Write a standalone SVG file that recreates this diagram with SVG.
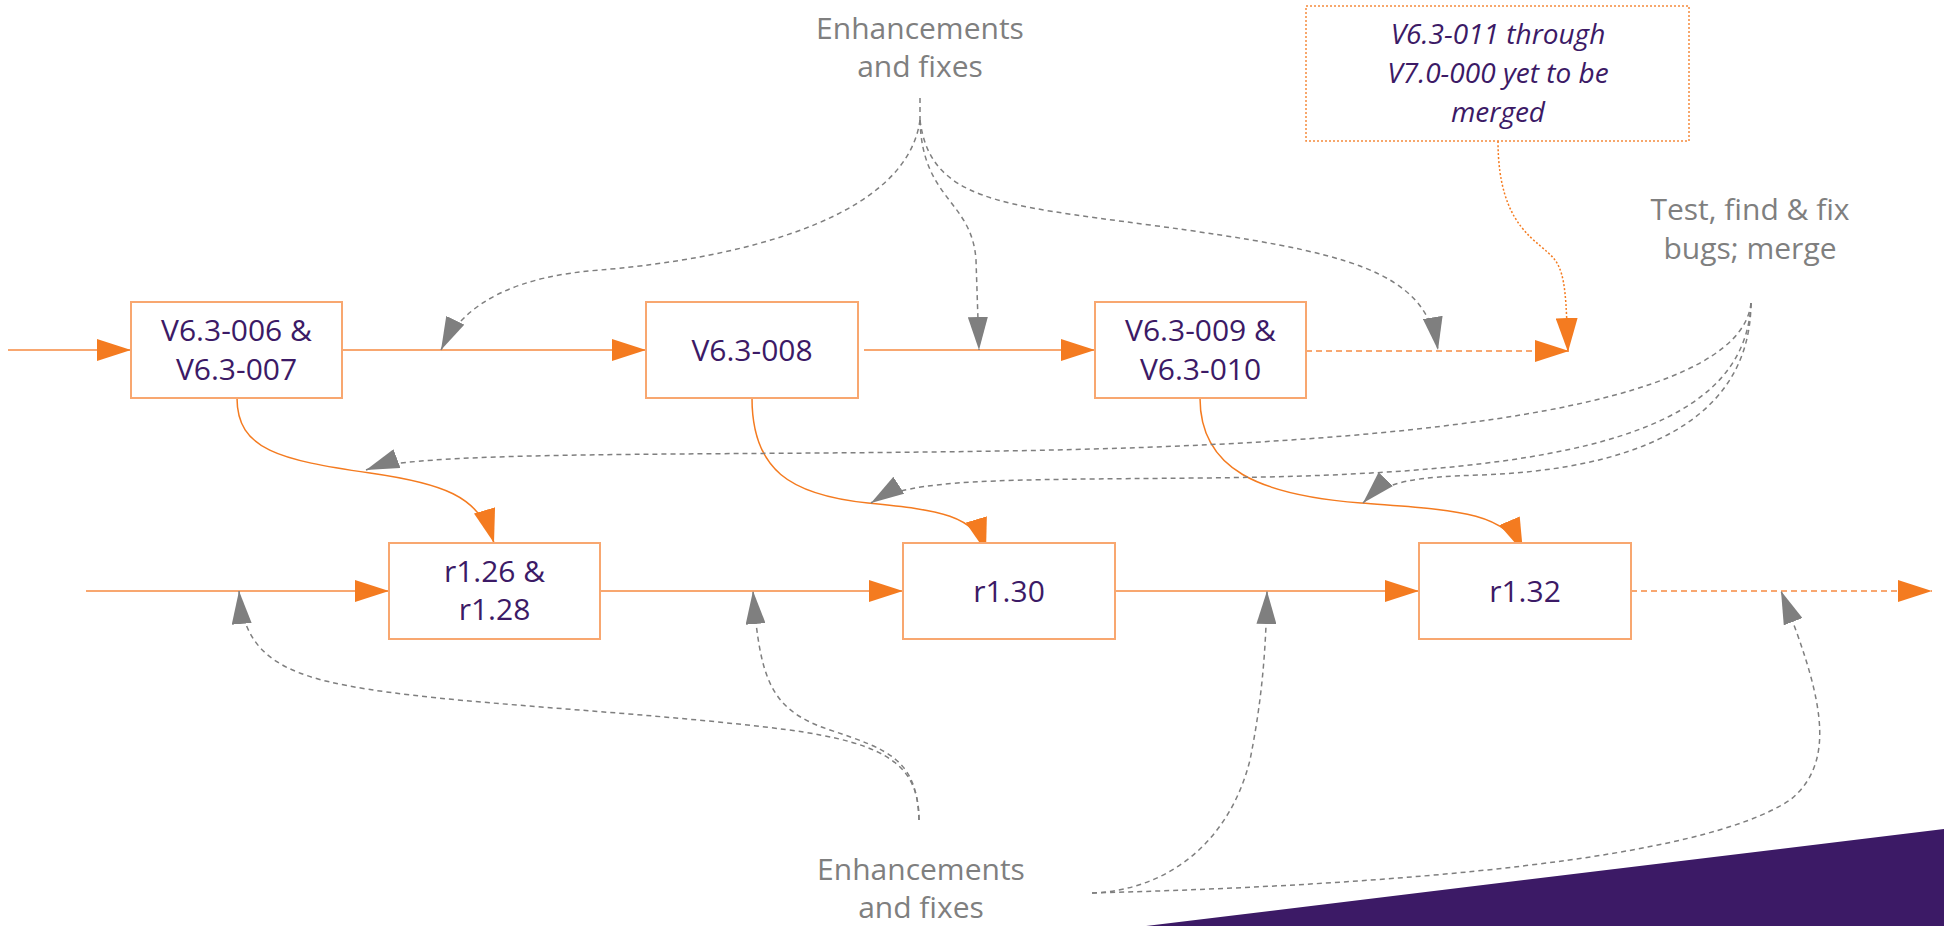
<svg xmlns="http://www.w3.org/2000/svg" width="1944" height="926" viewBox="0 0 1944 926">
<style>
.box{fill:#ffffff;stroke:#f8a770;stroke-width:2}
.note{fill:#ffffff;stroke:#f58a3c;stroke-width:1.5;stroke-dasharray:2,2}
.t{font-family:"Open Sans","Liberation Sans",sans-serif;font-size:30px;fill:#3c1a66;text-anchor:middle}
.ti{font-family:"Open Sans","Liberation Sans",sans-serif;font-size:28px;font-style:italic;fill:#3c1a66;text-anchor:middle}
.g{font-family:"Open Sans","Liberation Sans",sans-serif;font-size:30px;fill:#7f7f7f;text-anchor:middle}
.main{fill:none;stroke:#f8a770;stroke-width:2;marker-end:url(#oa)}
.maind{fill:none;stroke:#f8a770;stroke-width:2;stroke-dasharray:6,4;marker-end:url(#oa)}
.cur{fill:none;stroke:#f47b20;stroke-width:1.5;marker-end:url(#oa)}
.dot{fill:none;stroke:#f47b20;stroke-width:1.5;stroke-dasharray:2,2;marker-end:url(#oa)}
.gl{fill:none;stroke:#7f7f7f;stroke-width:1.5;stroke-dasharray:5,4;marker-end:url(#ga)}
.gn{fill:none;stroke:#7f7f7f;stroke-width:1.5;stroke-dasharray:5,4}
</style>
<defs>
<marker id="oa" markerUnits="userSpaceOnUse" viewBox="0 0 34 22" refX="34" refY="11" markerWidth="34" markerHeight="22" orient="auto"><path d="M0,0 L34,11 L0,22 z" fill="#f47b20"/></marker>
<marker id="ga" markerUnits="userSpaceOnUse" viewBox="0 0 33 20" refX="33" refY="10" markerWidth="33" markerHeight="20" orient="auto"><path d="M0,0 L33,10 L0,20 z" fill="#7f7f7f"/></marker>
</defs>
<polygon points="1146,926 1944,829 1944,926" fill="#3c1a66"/>
<g id="connectors">
<path class="main" d="M8,350 L131,350"/>
<path class="main" d="M342,350 L646,350"/>
<path class="main" d="M864,350 L1095,350"/>
<path class="maind" d="M1306,351 L1569,351"/>
<path class="main" d="M86,591 L389,591"/>
<path class="main" d="M600,591 L903,591"/>
<path class="main" d="M1115,591 L1419,591"/>
<path class="maind" d="M1631,591 L1932,591"/>
<path class="cur" d="M237,398 C237,450 280,460 370,473 C440,483 480,495 494,543"/>
<path class="cur" d="M752,398 C752,470 790,495 868,503 C940,510 975,515 986,552"/>
<path class="cur" d="M1200,398 C1200,470 1260,495 1361,503 C1450,510 1505,510 1523,552"/>
<path class="dot" d="M1498,141 C1498,230 1540,240 1555,260 C1566,275 1566,300 1568,352"/>
<path class="gl" d="M920,120 C905,230 700,262 600,270 C520,276 465,300 441,350"/>
<path class="gl" d="M920,120 C922,200 972,200 976,260 L979,350"/>
<path class="gl" d="M920,120 C930,200 1000,205 1150,225 C1350,252 1425,270 1438,350"/>
<path class="gn" d="M920,98 L920,120"/>
<path class="gl" d="M1751,303 C1740,410 1400,445 1000,451 C700,456 420,450 366,470"/>
<path class="gl" d="M1751,303 C1745,440 1550,475 1200,478 C1000,480 910,478 871,503"/>
<path class="gl" d="M1751,303 C1750,430 1620,470 1480,475 C1420,477 1385,480 1363,503"/>
<path class="gl" d="M919,820 C919,760 880,740 765,727 C600,708 420,703 330,682 C265,667 243,640 239,591"/>
<path class="gl" d="M919,820 C917,760 890,750 830,730 C770,710 760,680 753,591"/>
<path class="gl" d="M1092,893 C1170,890 1230,840 1250,760 C1262,700 1266,650 1267,591"/>
<path class="gl" d="M1092,893 C1400,885 1700,860 1790,800 C1840,760 1820,690 1781,591"/>
</g>
<g id="n-v006"><rect class="box" x="131" y="302" width="211" height="96"/><text class="t" x="236.5" y="341">V6.3-006 &amp;</text><text class="t" x="236.5" y="380">V6.3-007</text></g>
<g id="n-v008"><rect class="box" x="646" y="302" width="212" height="96"/><text class="t" x="752" y="361">V6.3-008</text></g>
<g id="n-v009"><rect class="box" x="1095" y="302" width="211" height="96"/><text class="t" x="1200.5" y="341">V6.3-009 &amp;</text><text class="t" x="1200.5" y="380">V6.3-010</text></g>
<g id="n-r126"><rect class="box" x="389" y="543" width="211" height="96"/><text class="t" x="494.5" y="582">r1.26 &amp;</text><text class="t" x="494.5" y="620">r1.28</text></g>
<g id="n-r130"><rect class="box" x="903" y="543" width="212" height="96"/><text class="t" x="1009" y="602">r1.30</text></g>
<g id="n-r132"><rect class="box" x="1419" y="543" width="212" height="96"/><text class="t" x="1525" y="602">r1.32</text></g>
<g id="n-note"><rect class="note" x="1306" y="6" width="383" height="135"/><text class="ti" x="1498" y="44">V6.3-011 through</text><text class="ti" x="1498" y="83">V7.0-000 yet to be</text><text class="ti" x="1498" y="122">merged</text></g>
<g id="l-enh-top"><text class="g" x="920" y="39">Enhancements</text><text class="g" x="920" y="77">and fixes</text></g>
<g id="l-test"><text class="g" x="1750" y="220">Test, find &amp; fix</text><text class="g" x="1750" y="259">bugs; merge</text></g>
<g id="l-enh-bottom"><text class="g" x="921" y="880">Enhancements</text><text class="g" x="921" y="918">and fixes</text></g>
</svg>
